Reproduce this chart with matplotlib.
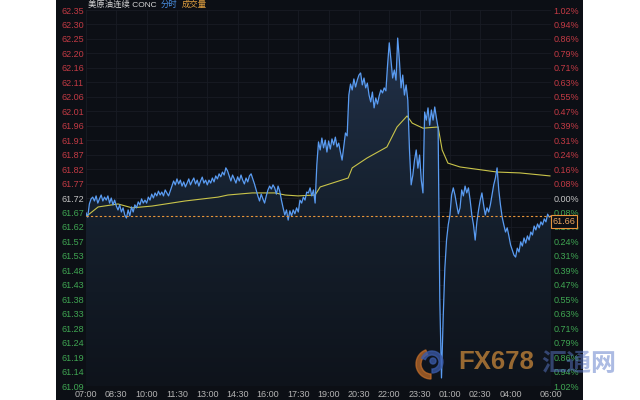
import numpy as np
import matplotlib.pyplot as plt
from matplotlib.patches import Rectangle, Polygon, Wedge, Circle
from matplotlib.colors import LinearSegmentedColormap
import matplotlib.transforms as mtransforms

plt.rcParams['font.family'] = ['Liberation Sans', 'Noto Sans CJK SC', 'DejaVu Sans']

# price every 5 minutes, 07:00 -> 06:00 next day (one row per hour)
price = [
    61.670, 61.656, 61.700, 61.717, 61.723, 61.710, 61.727, 61.703, 61.717, 61.730, 61.710, 61.723,  # 07
    61.713, 61.727, 61.703, 61.720, 61.697, 61.713, 61.693, 61.680, 61.697, 61.673, 61.687, 61.663,  # 08
    61.653, 61.680, 61.660, 61.690, 61.673, 61.697, 61.687, 61.707, 61.697, 61.717, 61.703, 61.713,  # 09
    61.703, 61.723, 61.713, 61.733, 61.720, 61.737, 61.727, 61.743, 61.730, 61.740, 61.727, 61.747,  # 10
    61.737, 61.727, 61.743, 61.760, 61.777, 61.764, 61.784, 61.767, 61.780, 61.760, 61.774, 61.757,  # 11
    61.770, 61.784, 61.764, 61.777, 61.787, 61.767, 61.780, 61.760, 61.777, 61.790, 61.770, 61.780,  # 12
    61.764, 61.780, 61.770, 61.787, 61.774, 61.794, 61.784, 61.801, 61.791, 61.807, 61.797, 61.821,  # 13
    61.811, 61.794, 61.777, 61.797, 61.784, 61.770, 61.791, 61.777, 61.797, 61.780, 61.767, 61.787,  # 14
    61.774, 61.794, 61.801, 61.784, 61.767, 61.747, 61.727, 61.710, 61.733, 61.717, 61.703, 61.727,  # 15
    61.747, 61.760, 61.750, 61.764, 61.754, 61.733, 61.760, 61.743, 61.713, 61.687, 61.663, 61.680,  # 16
    61.646, 61.677, 61.660, 61.680, 61.667, 61.687, 61.673, 61.713, 61.703, 61.723, 61.713, 61.740,  # 17
    61.737, 61.754, 61.727, 61.747, 61.703, 61.831, 61.908, 61.881, 61.921, 61.888, 61.914, 61.874,  # 18
    61.911, 61.884, 61.918, 61.898, 61.924, 61.891, 61.904, 61.874, 61.847, 61.894, 61.938, 61.928,  # 19
    62.065, 62.102, 62.082, 62.119, 62.092, 62.115, 62.132, 62.139, 62.099, 62.122, 62.089, 62.105,  # 20
    62.065, 62.042, 62.075, 62.022, 62.055, 62.035, 62.062, 62.082, 62.072, 62.089, 62.079, 62.166,  # 21
    62.240, 62.183, 62.122, 62.149, 62.115, 62.256, 62.183, 62.089, 62.132, 62.065, 62.099, 62.048,  # 22
    61.881, 61.764, 61.797, 61.847, 61.881, 61.820, 61.864, 61.780, 61.737, 62.008, 61.981, 62.022,  # 23
    61.964, 62.015, 61.981, 62.025, 61.988, 61.954, 61.378, 61.117, 61.318, 61.485, 61.579, 61.630,  # 00
    61.663, 61.730, 61.754, 61.730, 61.697, 61.667, 61.687, 61.747, 61.727, 61.760, 61.737, 61.754,  # 01
    61.713, 61.663, 61.630, 61.579, 61.640, 61.680, 61.713, 61.737, 61.697, 61.663, 61.687, 61.673,  # 02
    61.697, 61.730, 61.764, 61.787, 61.821, 61.747, 61.697, 61.656, 61.630, 61.606, 61.620, 61.593,  # 03
    61.563, 61.546, 61.529, 61.522, 61.552, 61.539, 61.573, 61.559, 61.586, 61.569, 61.593, 61.579,  # 04
    61.606, 61.596, 61.626, 61.613, 61.633, 61.620, 61.640, 61.630, 61.650, 61.640, 61.666, 61.656,  # 05
    61.660,
]
minutes = np.arange(len(price)) * 5

# average price line (minutes after 07:00)
avg_minutes = [0, 6, 36, 95, 137, 196, 294, 392, 421, 493, 561, 591, 629, 680, 695, 778, 790,
               834, 893, 923, 953, 968, 1000, 1045, 1057, 1074, 1110, 1220, 1288, 1377]
avg_price = [61.660, 61.663, 61.690, 61.700, 61.687, 61.693, 61.710, 61.723, 61.730, 61.737,
             61.737, 61.730, 61.727, 61.730, 61.757, 61.787, 61.821, 61.854, 61.891, 61.958,
             61.995, 61.971, 61.954, 61.958, 61.881, 61.837, 61.824, 61.807, 61.804, 61.794]

last_price = 61.66

price_labels = ['62.35', '62.30', '62.25', '62.20', '62.16', '62.11', '62.06', '62.01', '61.96',
                '61.91', '61.87', '61.82', '61.77', '61.72', '61.67', '61.62', '61.57', '61.53',
                '61.48', '61.43', '61.38', '61.33', '61.28', '61.24', '61.19', '61.14', '61.09']
pct_labels = ['1.02%', '0.94%', '0.86%', '0.79%', '0.71%', '0.63%', '0.55%', '0.47%', '0.39%',
              '0.31%', '0.24%', '0.16%', '0.08%', '0.00%', '0.08%', '0.16%', '0.24%', '0.31%',
              '0.39%', '0.47%', '0.55%', '0.63%', '0.71%', '0.79%', '0.86%', '0.94%', '1.02%']
time_labels = ['07:00', '08:30', '10:00', '11:30', '13:00', '14:30', '16:00', '17:30', '19:00',
               '20:30', '22:00', '23:30', '01:00', '02:30', '04:00', '06:00']
time_ticks = [0, 90, 180, 270, 360, 450, 540, 630, 720, 810, 900, 990, 1080, 1170, 1260, 1380]
header = [('美原油连续 CONC', '#d8d8d8'), ('分时', '#4a90e2'), ('成交量', '#e0a040')]

bg = '#0c0f15'
red = '#c23a44'
green = '#3fa552'
gray = '#c4c4c4'

fig = plt.figure(figsize=(6.4, 4.0), dpi=100)
fig.patch.set_facecolor('white')
fig.patches.append(Rectangle((56 / 640, 0), 527 / 640, 1, transform=fig.transFigure,
                             facecolor=bg, edgecolor='none', zorder=-5))

ax = fig.add_axes([86 / 640, 14 / 400, 465 / 640, 376 / 400])
ax.set_facecolor(bg)
for s in ax.spines.values():
    s.set_visible(False)

# gradient fill under the price line
verts = [(minutes[0], 61.09)] + list(zip(minutes, price)) + [(minutes[-1], 61.09)]
poly = Polygon(verts, closed=True, facecolor='none', edgecolor='none')
ax.add_patch(poly)
cmap = LinearSegmentedColormap.from_list('fill', ['#0e131b', '#16212f', '#24344e'])
grad = np.linspace(0, 1, 256).reshape(-1, 1)
im = ax.imshow(grad, extent=[0, 1380, 61.09, 62.35], origin='lower', aspect='auto',
               cmap=cmap, zorder=1)
im.set_clip_path(poly)

ax.plot(avg_minutes, avg_price, color='#c9c44a', lw=0.8, zorder=3)
ax.plot(minutes, price, color='#5a9cf2', lw=0.9, zorder=4)
ax.axhline(last_price, color='#e8953a', lw=0.8, ls=(0, (2, 2)), zorder=5)

ax.set_xlim(0, 1380)
ax.set_ylim(61.09, 62.35)

yt = np.linspace(62.35, 61.09, len(price_labels))
mid = len(price_labels) // 2
ax.set_yticks(yt)
ax.set_yticklabels(price_labels)
ax.set_xticks(time_ticks)
ax.set_xticklabels(time_labels)
ax.tick_params(axis='y', length=0, pad=1.5, labelsize=6.5)
ax.tick_params(axis='x', length=0, pad=3, labelsize=6.5, labelcolor='#b4b4b4')
for i, lab in enumerate(ax.get_yticklabels()):
    lab.set_color(red if i < mid else (gray if i == mid else green))
ax.grid(True, color='#181c24', lw=0.6)
ax.set_axisbelow(True)

ax2 = ax.twinx()
ax2.set_ylim(61.09, 62.35)
ax2.set_yticks(yt)
ax2.set_yticklabels(pct_labels)
ax2.tick_params(axis='y', length=0, pad=2, labelsize=6.5)
for i, lab in enumerate(ax2.get_yticklabels()):
    lab.set_color(red if i < mid else (gray if i == mid else green))
for s in ax2.spines.values():
    s.set_visible(False)

trans = mtransforms.blended_transform_factory(ax2.transAxes, ax2.transData)
ax2.text(1.003, last_price - 0.004, '%.2f' % last_price, transform=trans, va='top', ha='left',
         fontsize=6.5, color='#f0a860', zorder=6, clip_on=False,
         bbox=dict(boxstyle='square,pad=0.2', fc=bg, ec='#e8953a', lw=0.8))

# header, pieces placed one after another
fig.canvas.draw()
renderer = fig.canvas.get_renderer()
hx = 88
for txt, col in header:
    t = fig.text(hx / 640, 1 - 5 / 400, txt, color=col, fontsize=6, va='center')
    hx += t.get_window_extent(renderer).width + 4

# watermark
ov = fig.add_axes([0, 0, 1, 1], zorder=10)
ov.set_xlim(0, 640)
ov.set_ylim(400, 0)
ov.axis('off')
ov.patch.set_alpha(0)
ov.add_patch(Wedge((431, 364), 15, 90, 250, width=5, color='#c8702a', alpha=0.7))
ov.add_patch(Wedge((432, 362), 11, 200, 450, width=4, color='#3a5aa8', alpha=0.75))
ov.add_patch(Circle((433, 361), 3, color='#3a5aa8', alpha=0.75))
ov.text(458, 362, 'FX678', fontsize=18.5, fontweight='bold', color='#c8873a', alpha=0.75,
        va='center', ha='left')
ov.text(541, 364, '汇通网', fontsize=18, fontweight='bold', family='Noto Sans CJK SC',
        color='#5a78c8', alpha=0.5, va='center', ha='left')

plt.savefig('out.png', dpi=100, facecolor='white')
